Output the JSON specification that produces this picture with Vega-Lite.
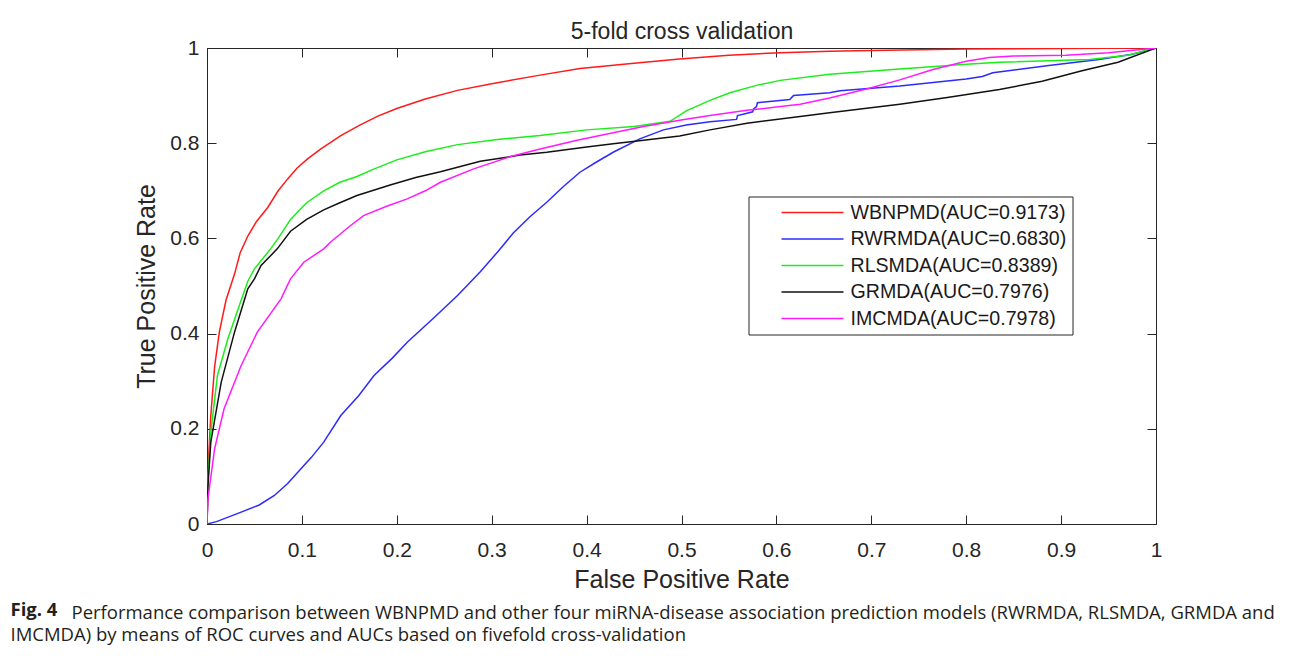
{
  "$schema": "https://vega.github.io/schema/vega-lite/v6.json",
  "background": "white",
  "padding": {"left": 10, "top": 20, "right": 5, "bottom": 5},
  "config": {
    "font": "Liberation Sans",
    "view": {"stroke": null},
    "axis": {
      "domainColor": "#262626", "tickColor": "#262626", "labelColor": "#262626", "titleColor": "#262626",
      "grid": false, "labelFont": "Liberation Sans", "titleFont": "Liberation Sans", "titleFontWeight": "normal",
      "domainWidth": 1, "tickWidth": 1, "tickSize": -9, "labelFlush": false, "labelOverlap": false
    },
    "legend": {
      "orient": "none", "legendX": 541.5, "legendY": 148.5,
      "strokeColor": "#262626", "fillColor": "white", "padding": 6,
      "symbolType": "stroke", "symbolSize": 3844, "symbolStrokeWidth": 1.5, "clipHeight": 20,
      "symbolOffset": 26, "labelOffset": 6, "rowPadding": 6.5,
      "labelFont": "Liberation Sans", "labelFontSize": 19.6, "labelColor": "#1a1a1a", "labelLimit": 400
    }
  },
  "title": {
    "text": "Fig. 4", "orient": "bottom", "anchor": "start", "font": "Open Sans", "fontSize": 18.5,
    "fontWeight": "bold", "color": "#231f20", "offset": 0, "dy": -44
  },
  "vconcat": [
    {
      "title": {
        "text": "IMCMDA) by means of ROC curves and AUCs based on fivefold cross-validation",
        "orient": "bottom", "anchor": "start", "dx": -61, "offset": 4,
        "font": "Open Sans", "fontSize": 18.5, "fontWeight": "normal", "color": "#231f20"
      },
      "vconcat": [
        {
          "width": 949,
          "height": 476,
          "title": {
            "text": "Performance comparison between WBNPMD and other four miRNA-disease association prediction models (RWRMDA, RLSMDA, GRMDA and",
            "orient": "bottom", "anchor": "start", "frame": "group", "dx": -135.5, "offset": 11,
            "font": "Open Sans", "fontSize": 18.5, "fontWeight": "normal", "color": "#231f20"
          },
          "data": {
            "values": [
              {"model": "WBNPMD(AUC=0.9173)", "fpr": 0, "tpr": 0},
              {"model": "WBNPMD(AUC=0.9173)", "fpr": 0.001, "tpr": 0.08},
              {"model": "WBNPMD(AUC=0.9173)", "fpr": 0.002, "tpr": 0.15},
              {"model": "WBNPMD(AUC=0.9173)", "fpr": 0.004, "tpr": 0.228},
              {"model": "WBNPMD(AUC=0.9173)", "fpr": 0.008, "tpr": 0.33},
              {"model": "WBNPMD(AUC=0.9173)", "fpr": 0.013, "tpr": 0.403},
              {"model": "WBNPMD(AUC=0.9173)", "fpr": 0.02, "tpr": 0.47},
              {"model": "WBNPMD(AUC=0.9173)", "fpr": 0.029, "tpr": 0.525},
              {"model": "WBNPMD(AUC=0.9173)", "fpr": 0.035, "tpr": 0.57},
              {"model": "WBNPMD(AUC=0.9173)", "fpr": 0.043, "tpr": 0.605},
              {"model": "WBNPMD(AUC=0.9173)", "fpr": 0.052, "tpr": 0.635},
              {"model": "WBNPMD(AUC=0.9173)", "fpr": 0.064, "tpr": 0.665},
              {"model": "WBNPMD(AUC=0.9173)", "fpr": 0.075, "tpr": 0.7},
              {"model": "WBNPMD(AUC=0.9173)", "fpr": 0.085, "tpr": 0.725},
              {"model": "WBNPMD(AUC=0.9173)", "fpr": 0.095, "tpr": 0.748},
              {"model": "WBNPMD(AUC=0.9173)", "fpr": 0.106, "tpr": 0.767},
              {"model": "WBNPMD(AUC=0.9173)", "fpr": 0.12, "tpr": 0.788},
              {"model": "WBNPMD(AUC=0.9173)", "fpr": 0.141, "tpr": 0.816},
              {"model": "WBNPMD(AUC=0.9173)", "fpr": 0.16, "tpr": 0.837},
              {"model": "WBNPMD(AUC=0.9173)", "fpr": 0.18, "tpr": 0.857},
              {"model": "WBNPMD(AUC=0.9173)", "fpr": 0.2, "tpr": 0.873},
              {"model": "WBNPMD(AUC=0.9173)", "fpr": 0.23, "tpr": 0.893},
              {"model": "WBNPMD(AUC=0.9173)", "fpr": 0.264, "tpr": 0.911},
              {"model": "WBNPMD(AUC=0.9173)", "fpr": 0.3, "tpr": 0.925},
              {"model": "WBNPMD(AUC=0.9173)", "fpr": 0.351, "tpr": 0.943},
              {"model": "WBNPMD(AUC=0.9173)", "fpr": 0.393, "tpr": 0.957},
              {"model": "WBNPMD(AUC=0.9173)", "fpr": 0.45, "tpr": 0.968},
              {"model": "WBNPMD(AUC=0.9173)", "fpr": 0.498, "tpr": 0.977},
              {"model": "WBNPMD(AUC=0.9173)", "fpr": 0.55, "tpr": 0.985},
              {"model": "WBNPMD(AUC=0.9173)", "fpr": 0.604, "tpr": 0.99},
              {"model": "WBNPMD(AUC=0.9173)", "fpr": 0.656, "tpr": 0.993},
              {"model": "WBNPMD(AUC=0.9173)", "fpr": 0.7, "tpr": 0.995},
              {"model": "WBNPMD(AUC=0.9173)", "fpr": 0.8, "tpr": 0.998},
              {"model": "WBNPMD(AUC=0.9173)", "fpr": 0.9, "tpr": 0.999},
              {"model": "WBNPMD(AUC=0.9173)", "fpr": 1, "tpr": 1},

              {"model": "RWRMDA(AUC=0.6830)", "fpr": 0, "tpr": 0},
              {"model": "RWRMDA(AUC=0.6830)", "fpr": 0.01, "tpr": 0.005},
              {"model": "RWRMDA(AUC=0.6830)", "fpr": 0.036, "tpr": 0.025},
              {"model": "RWRMDA(AUC=0.6830)", "fpr": 0.055, "tpr": 0.04},
              {"model": "RWRMDA(AUC=0.6830)", "fpr": 0.071, "tpr": 0.06},
              {"model": "RWRMDA(AUC=0.6830)", "fpr": 0.085, "tpr": 0.085},
              {"model": "RWRMDA(AUC=0.6830)", "fpr": 0.099, "tpr": 0.116},
              {"model": "RWRMDA(AUC=0.6830)", "fpr": 0.11, "tpr": 0.14},
              {"model": "RWRMDA(AUC=0.6830)", "fpr": 0.123, "tpr": 0.172},
              {"model": "RWRMDA(AUC=0.6830)", "fpr": 0.141, "tpr": 0.228},
              {"model": "RWRMDA(AUC=0.6830)", "fpr": 0.16, "tpr": 0.27},
              {"model": "RWRMDA(AUC=0.6830)", "fpr": 0.176, "tpr": 0.312},
              {"model": "RWRMDA(AUC=0.6830)", "fpr": 0.195, "tpr": 0.348},
              {"model": "RWRMDA(AUC=0.6830)", "fpr": 0.211, "tpr": 0.382},
              {"model": "RWRMDA(AUC=0.6830)", "fpr": 0.24, "tpr": 0.435},
              {"model": "RWRMDA(AUC=0.6830)", "fpr": 0.264, "tpr": 0.48},
              {"model": "RWRMDA(AUC=0.6830)", "fpr": 0.288, "tpr": 0.53},
              {"model": "RWRMDA(AUC=0.6830)", "fpr": 0.306, "tpr": 0.571},
              {"model": "RWRMDA(AUC=0.6830)", "fpr": 0.323, "tpr": 0.612},
              {"model": "RWRMDA(AUC=0.6830)", "fpr": 0.34, "tpr": 0.645},
              {"model": "RWRMDA(AUC=0.6830)", "fpr": 0.358, "tpr": 0.676},
              {"model": "RWRMDA(AUC=0.6830)", "fpr": 0.375, "tpr": 0.708},
              {"model": "RWRMDA(AUC=0.6830)", "fpr": 0.393, "tpr": 0.739},
              {"model": "RWRMDA(AUC=0.6830)", "fpr": 0.41, "tpr": 0.76},
              {"model": "RWRMDA(AUC=0.6830)", "fpr": 0.428, "tpr": 0.781},
              {"model": "RWRMDA(AUC=0.6830)", "fpr": 0.456, "tpr": 0.809},
              {"model": "RWRMDA(AUC=0.6830)", "fpr": 0.481, "tpr": 0.828},
              {"model": "RWRMDA(AUC=0.6830)", "fpr": 0.505, "tpr": 0.838},
              {"model": "RWRMDA(AUC=0.6830)", "fpr": 0.53, "tpr": 0.845},
              {"model": "RWRMDA(AUC=0.6830)", "fpr": 0.558, "tpr": 0.85},
              {"model": "RWRMDA(AUC=0.6830)", "fpr": 0.559, "tpr": 0.858},
              {"model": "RWRMDA(AUC=0.6830)", "fpr": 0.567, "tpr": 0.862},
              {"model": "RWRMDA(AUC=0.6830)", "fpr": 0.575, "tpr": 0.866},
              {"model": "RWRMDA(AUC=0.6830)", "fpr": 0.576, "tpr": 0.872},
              {"model": "RWRMDA(AUC=0.6830)", "fpr": 0.579, "tpr": 0.877},
              {"model": "RWRMDA(AUC=0.6830)", "fpr": 0.58, "tpr": 0.885},
              {"model": "RWRMDA(AUC=0.6830)", "fpr": 0.614, "tpr": 0.892},
              {"model": "RWRMDA(AUC=0.6830)", "fpr": 0.618, "tpr": 0.9},
              {"model": "RWRMDA(AUC=0.6830)", "fpr": 0.656, "tpr": 0.906},
              {"model": "RWRMDA(AUC=0.6830)", "fpr": 0.667, "tpr": 0.91},
              {"model": "RWRMDA(AUC=0.6830)", "fpr": 0.73, "tpr": 0.92},
              {"model": "RWRMDA(AUC=0.6830)", "fpr": 0.8, "tpr": 0.935},
              {"model": "RWRMDA(AUC=0.6830)", "fpr": 0.817, "tpr": 0.94},
              {"model": "RWRMDA(AUC=0.6830)", "fpr": 0.828, "tpr": 0.948},
              {"model": "RWRMDA(AUC=0.6830)", "fpr": 0.887, "tpr": 0.963},
              {"model": "RWRMDA(AUC=0.6830)", "fpr": 0.94, "tpr": 0.976},
              {"model": "RWRMDA(AUC=0.6830)", "fpr": 0.975, "tpr": 0.987},
              {"model": "RWRMDA(AUC=0.6830)", "fpr": 1, "tpr": 1},

              {"model": "RLSMDA(AUC=0.8389)", "fpr": 0, "tpr": 0},
              {"model": "RLSMDA(AUC=0.8389)", "fpr": 0.001, "tpr": 0.09},
              {"model": "RLSMDA(AUC=0.8389)", "fpr": 0.004, "tpr": 0.193},
              {"model": "RLSMDA(AUC=0.8389)", "fpr": 0.011, "tpr": 0.312},
              {"model": "RLSMDA(AUC=0.8389)", "fpr": 0.022, "tpr": 0.389},
              {"model": "RLSMDA(AUC=0.8389)", "fpr": 0.036, "tpr": 0.47},
              {"model": "RLSMDA(AUC=0.8389)", "fpr": 0.043, "tpr": 0.51},
              {"model": "RLSMDA(AUC=0.8389)", "fpr": 0.05, "tpr": 0.536},
              {"model": "RLSMDA(AUC=0.8389)", "fpr": 0.067, "tpr": 0.578},
              {"model": "RLSMDA(AUC=0.8389)", "fpr": 0.075, "tpr": 0.6},
              {"model": "RLSMDA(AUC=0.8389)", "fpr": 0.088, "tpr": 0.64},
              {"model": "RLSMDA(AUC=0.8389)", "fpr": 0.105, "tpr": 0.675},
              {"model": "RLSMDA(AUC=0.8389)", "fpr": 0.123, "tpr": 0.7},
              {"model": "RLSMDA(AUC=0.8389)", "fpr": 0.14, "tpr": 0.718},
              {"model": "RLSMDA(AUC=0.8389)", "fpr": 0.158, "tpr": 0.73},
              {"model": "RLSMDA(AUC=0.8389)", "fpr": 0.175, "tpr": 0.745},
              {"model": "RLSMDA(AUC=0.8389)", "fpr": 0.2, "tpr": 0.765},
              {"model": "RLSMDA(AUC=0.8389)", "fpr": 0.23, "tpr": 0.782},
              {"model": "RLSMDA(AUC=0.8389)", "fpr": 0.264, "tpr": 0.797},
              {"model": "RLSMDA(AUC=0.8389)", "fpr": 0.306, "tpr": 0.808},
              {"model": "RLSMDA(AUC=0.8389)", "fpr": 0.351, "tpr": 0.816},
              {"model": "RLSMDA(AUC=0.8389)", "fpr": 0.4, "tpr": 0.828},
              {"model": "RLSMDA(AUC=0.8389)", "fpr": 0.45, "tpr": 0.835},
              {"model": "RLSMDA(AUC=0.8389)", "fpr": 0.488, "tpr": 0.846},
              {"model": "RLSMDA(AUC=0.8389)", "fpr": 0.505, "tpr": 0.868},
              {"model": "RLSMDA(AUC=0.8389)", "fpr": 0.53, "tpr": 0.89},
              {"model": "RLSMDA(AUC=0.8389)", "fpr": 0.551, "tpr": 0.906},
              {"model": "RLSMDA(AUC=0.8389)", "fpr": 0.58, "tpr": 0.922},
              {"model": "RLSMDA(AUC=0.8389)", "fpr": 0.604, "tpr": 0.932},
              {"model": "RLSMDA(AUC=0.8389)", "fpr": 0.656, "tpr": 0.945},
              {"model": "RLSMDA(AUC=0.8389)", "fpr": 0.73, "tpr": 0.956},
              {"model": "RLSMDA(AUC=0.8389)", "fpr": 0.8, "tpr": 0.966},
              {"model": "RLSMDA(AUC=0.8389)", "fpr": 0.835, "tpr": 0.97},
              {"model": "RLSMDA(AUC=0.8389)", "fpr": 0.93, "tpr": 0.976},
              {"model": "RLSMDA(AUC=0.8389)", "fpr": 0.97, "tpr": 0.985},
              {"model": "RLSMDA(AUC=0.8389)", "fpr": 1, "tpr": 1},

              {"model": "GRMDA(AUC=0.7976)", "fpr": 0, "tpr": 0},
              {"model": "GRMDA(AUC=0.7976)", "fpr": 0.001, "tpr": 0.08},
              {"model": "GRMDA(AUC=0.7976)", "fpr": 0.004, "tpr": 0.172},
              {"model": "GRMDA(AUC=0.7976)", "fpr": 0.015, "tpr": 0.298},
              {"model": "GRMDA(AUC=0.7976)", "fpr": 0.029, "tpr": 0.403},
              {"model": "GRMDA(AUC=0.7976)", "fpr": 0.043, "tpr": 0.494},
              {"model": "GRMDA(AUC=0.7976)", "fpr": 0.05, "tpr": 0.515},
              {"model": "GRMDA(AUC=0.7976)", "fpr": 0.057, "tpr": 0.543},
              {"model": "GRMDA(AUC=0.7976)", "fpr": 0.074, "tpr": 0.578},
              {"model": "GRMDA(AUC=0.7976)", "fpr": 0.088, "tpr": 0.615},
              {"model": "GRMDA(AUC=0.7976)", "fpr": 0.105, "tpr": 0.64},
              {"model": "GRMDA(AUC=0.7976)", "fpr": 0.123, "tpr": 0.66},
              {"model": "GRMDA(AUC=0.7976)", "fpr": 0.14, "tpr": 0.675},
              {"model": "GRMDA(AUC=0.7976)", "fpr": 0.158, "tpr": 0.69},
              {"model": "GRMDA(AUC=0.7976)", "fpr": 0.193, "tpr": 0.712},
              {"model": "GRMDA(AUC=0.7976)", "fpr": 0.22, "tpr": 0.728},
              {"model": "GRMDA(AUC=0.7976)", "fpr": 0.246, "tpr": 0.74},
              {"model": "GRMDA(AUC=0.7976)", "fpr": 0.288, "tpr": 0.762},
              {"model": "GRMDA(AUC=0.7976)", "fpr": 0.33, "tpr": 0.775},
              {"model": "GRMDA(AUC=0.7976)", "fpr": 0.358, "tpr": 0.781},
              {"model": "GRMDA(AUC=0.7976)", "fpr": 0.4, "tpr": 0.792},
              {"model": "GRMDA(AUC=0.7976)", "fpr": 0.428, "tpr": 0.799},
              {"model": "GRMDA(AUC=0.7976)", "fpr": 0.46, "tpr": 0.806},
              {"model": "GRMDA(AUC=0.7976)", "fpr": 0.498, "tpr": 0.815},
              {"model": "GRMDA(AUC=0.7976)", "fpr": 0.53, "tpr": 0.828},
              {"model": "GRMDA(AUC=0.7976)", "fpr": 0.569, "tpr": 0.842},
              {"model": "GRMDA(AUC=0.7976)", "fpr": 0.625, "tpr": 0.856},
              {"model": "GRMDA(AUC=0.7976)", "fpr": 0.656, "tpr": 0.864},
              {"model": "GRMDA(AUC=0.7976)", "fpr": 0.73, "tpr": 0.882},
              {"model": "GRMDA(AUC=0.7976)", "fpr": 0.78, "tpr": 0.896},
              {"model": "GRMDA(AUC=0.7976)", "fpr": 0.835, "tpr": 0.913},
              {"model": "GRMDA(AUC=0.7976)", "fpr": 0.88, "tpr": 0.93},
              {"model": "GRMDA(AUC=0.7976)", "fpr": 0.922, "tpr": 0.952},
              {"model": "GRMDA(AUC=0.7976)", "fpr": 0.96, "tpr": 0.97},
              {"model": "GRMDA(AUC=0.7976)", "fpr": 1, "tpr": 1},

              {"model": "IMCMDA(AUC=0.7978)", "fpr": 0, "tpr": 0},
              {"model": "IMCMDA(AUC=0.7978)", "fpr": 0.001, "tpr": 0.053},
              {"model": "IMCMDA(AUC=0.7978)", "fpr": 0.008, "tpr": 0.158},
              {"model": "IMCMDA(AUC=0.7978)", "fpr": 0.018, "tpr": 0.242},
              {"model": "IMCMDA(AUC=0.7978)", "fpr": 0.036, "tpr": 0.333},
              {"model": "IMCMDA(AUC=0.7978)", "fpr": 0.053, "tpr": 0.403},
              {"model": "IMCMDA(AUC=0.7978)", "fpr": 0.078, "tpr": 0.473},
              {"model": "IMCMDA(AUC=0.7978)", "fpr": 0.088, "tpr": 0.515},
              {"model": "IMCMDA(AUC=0.7978)", "fpr": 0.102, "tpr": 0.55},
              {"model": "IMCMDA(AUC=0.7978)", "fpr": 0.123, "tpr": 0.578},
              {"model": "IMCMDA(AUC=0.7978)", "fpr": 0.13, "tpr": 0.592},
              {"model": "IMCMDA(AUC=0.7978)", "fpr": 0.15, "tpr": 0.625},
              {"model": "IMCMDA(AUC=0.7978)", "fpr": 0.165, "tpr": 0.648},
              {"model": "IMCMDA(AUC=0.7978)", "fpr": 0.19, "tpr": 0.668},
              {"model": "IMCMDA(AUC=0.7978)", "fpr": 0.211, "tpr": 0.683},
              {"model": "IMCMDA(AUC=0.7978)", "fpr": 0.23, "tpr": 0.7},
              {"model": "IMCMDA(AUC=0.7978)", "fpr": 0.246, "tpr": 0.718},
              {"model": "IMCMDA(AUC=0.7978)", "fpr": 0.281, "tpr": 0.746},
              {"model": "IMCMDA(AUC=0.7978)", "fpr": 0.32, "tpr": 0.772},
              {"model": "IMCMDA(AUC=0.7978)", "fpr": 0.351, "tpr": 0.788},
              {"model": "IMCMDA(AUC=0.7978)", "fpr": 0.39, "tpr": 0.806},
              {"model": "IMCMDA(AUC=0.7978)", "fpr": 0.428, "tpr": 0.822},
              {"model": "IMCMDA(AUC=0.7978)", "fpr": 0.46, "tpr": 0.835},
              {"model": "IMCMDA(AUC=0.7978)", "fpr": 0.498, "tpr": 0.848},
              {"model": "IMCMDA(AUC=0.7978)", "fpr": 0.53, "tpr": 0.858},
              {"model": "IMCMDA(AUC=0.7978)", "fpr": 0.569, "tpr": 0.869},
              {"model": "IMCMDA(AUC=0.7978)", "fpr": 0.6, "tpr": 0.876},
              {"model": "IMCMDA(AUC=0.7978)", "fpr": 0.625, "tpr": 0.882},
              {"model": "IMCMDA(AUC=0.7978)", "fpr": 0.656, "tpr": 0.895},
              {"model": "IMCMDA(AUC=0.7978)", "fpr": 0.695, "tpr": 0.914},
              {"model": "IMCMDA(AUC=0.7978)", "fpr": 0.73, "tpr": 0.933},
              {"model": "IMCMDA(AUC=0.7978)", "fpr": 0.765, "tpr": 0.955},
              {"model": "IMCMDA(AUC=0.7978)", "fpr": 0.8, "tpr": 0.972},
              {"model": "IMCMDA(AUC=0.7978)", "fpr": 0.824, "tpr": 0.98},
              {"model": "IMCMDA(AUC=0.7978)", "fpr": 0.85, "tpr": 0.983},
              {"model": "IMCMDA(AUC=0.7978)", "fpr": 0.905, "tpr": 0.985},
              {"model": "IMCMDA(AUC=0.7978)", "fpr": 0.95, "tpr": 0.99},
              {"model": "IMCMDA(AUC=0.7978)", "fpr": 1, "tpr": 1}
            ]
          },
          "layer": [
            {
              "mark": {"type": "line", "strokeWidth": 1.5, "clip": true},
              "encoding": {
                "x": {
                  "field": "fpr", "type": "quantitative", "scale": {"domain": [0, 1], "nice": false},
                  "axis": {
                    "orient": "bottom", "title": "False Positive Rate", "values": [0, 0.1, 0.2, 0.3, 0.4, 0.5, 0.6, 0.7, 0.8, 0.9, 1],
                    "format": "~g", "labelFontSize": 21, "labelPadding": 24.5, "titleFontSize": 25, "titlePadding": 7
                  }
                },
                "y": {
                  "field": "tpr", "type": "quantitative", "scale": {"domain": [0, 1], "nice": false},
                  "axis": {
                    "orient": "left", "title": "True Positive Rate", "values": [0, 0.2, 0.4, 0.6, 0.8, 1],
                    "format": "~g", "labelFontSize": 21, "labelPadding": 17, "titleFontSize": 25, "titlePadding": 10
                  }
                },
                "color": {
                  "field": "model", "type": "nominal", "title": null,
                  "scale": {
                    "domain": ["WBNPMD(AUC=0.9173)", "RWRMDA(AUC=0.6830)", "RLSMDA(AUC=0.8389)", "GRMDA(AUC=0.7976)", "IMCMDA(AUC=0.7978)"],
                    "range": ["#ff1a1a", "#2b2bff", "#1aee1a", "#111111", "#ff1aff"]
                  },
                  "legend": {"labelExpr": "datum.label + '\u2003\u2003'"}
                }
              }
            },
            {
              "mark": {"type": "point", "opacity": 0},
              "encoding": {
                "x": {
                  "field": "fpr", "type": "quantitative",
                  "axis": {
                    "orient": "top", "title": "5-fold cross validation", "values": [0, 0.1, 0.2, 0.3, 0.4, 0.5, 0.6, 0.7, 0.8, 0.9, 1],
                    "labels": false, "titleFontSize": 23, "titlePadding": 4
                  }
                },
                "y": {
                  "field": "tpr", "type": "quantitative",
                  "axis": {"orient": "right", "title": null, "values": [0, 0.2, 0.4, 0.6, 0.8, 1], "labels": false}
                }
              }
            }
          ]
        }
      ]
    }
  ]
}
